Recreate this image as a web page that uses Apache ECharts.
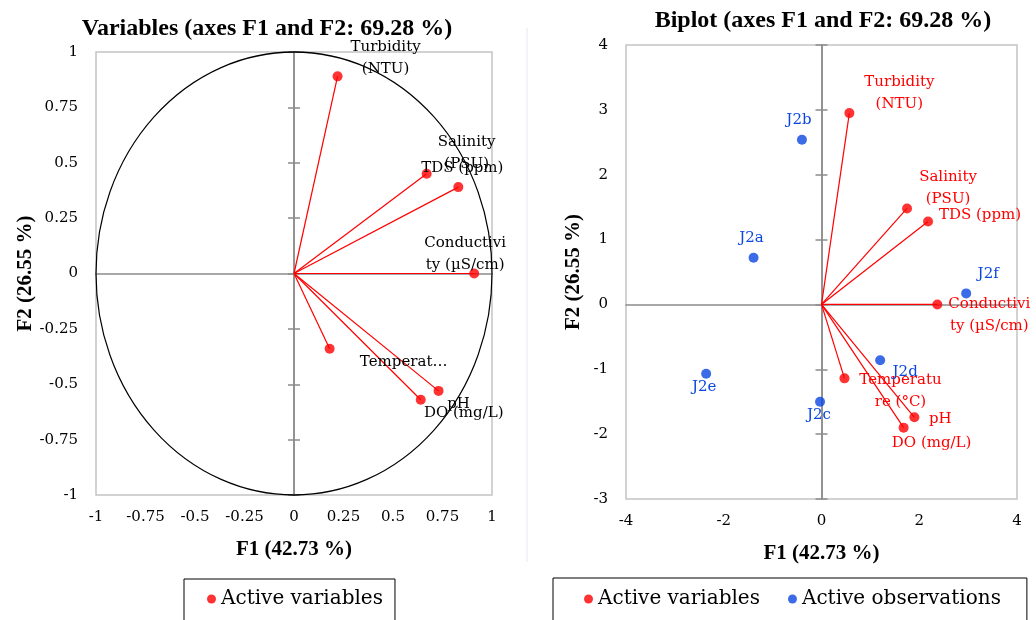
<!DOCTYPE html>
<html>
<head>
<meta charset="utf-8">
<script src="https://cdn.jsdelivr.net/npm/echarts@6/dist/echarts.min.js"></script>
<style>
  html, body { margin: 0; padding: 0; background: #ffffff; }
  #chart { width: 1036px; height: 620px; }
</style>
</head>
<body>
<div id="chart"></div>
<script>
// ---- PCA results: correlation circle (F1, F2) ----
const variableNames = ['Turbidity (NTU)', 'Salinity (PSU)', 'TDS (ppm)', 'Conductivity (µS/cm)', 'Temperature (°C)', 'pH', 'DO (mg/L)'];
const corrF1 = [0.22, 0.67, 0.83, 0.91, 0.18, 0.73, 0.64];
const corrF2 = [0.89, 0.45, 0.39, 0.00, -0.34, -0.53, -0.57];
const corrLabels = ['Turbidity\n(NTU)', 'Salinity\n(PSU)', 'TDS (ppm)', 'Conductivi\nty (µS/cm)', 'Temperat…', 'pH', 'DO (mg/L)'];

// ---- Biplot: variable vectors and observation scores ----
const biVarF1 = [0.57, 1.75, 2.18, 2.37, 0.47, 1.90, 1.68];
const biVarF2 = [2.95, 1.48, 1.28, 0.00, -1.14, -1.74, -1.90];
const biVarLabels = ['Turbidity\n(NTU)', 'Salinity\n(PSU)', 'TDS (ppm)', 'Conductivi\nty (µS/cm)', 'Temperatu\nre (°C)', 'pH', 'DO (mg/L)'];
const observations = ['J2a', 'J2b', 'J2c', 'J2d', 'J2e', 'J2f'];
const obsF1 = [-1.39, -0.40, -0.03, 1.20, -2.36, 2.96];
const obsF2 = [0.72, 2.54, -1.50, -0.86, -1.07, 0.17];

// ---- Axis texts ----
const titleLeft = 'Variables (axes F1 and F2: 69.28 %)';
const titleRight = 'Biplot (axes F1 and F2: 69.28 %)';
const nameF1 = 'F1 (42.73 %)';
const nameF2 = 'F2 (26.55 %)';
const legendVariables = 'Active variables';
const legendObservations = 'Active observations';

// ---- Label placement (pixel offsets from each point) ----
const corrLabelOffsets = [[48, -18], [40, -21], [4, -19], [-9, -19], [74, 13], [20, 13], [43, 13]];
const biVarLabelOffsets = [[50, -20], [41, -20], [52, -6], [52, 11], [56, 13], [26, 2], [28, 15]];
const obsLabelOffsets = [[-2, -20], [-3, -20], [-1, 13], [25, 12], [-2, 13], [22, -19]];

const RED = '#ff0000';
const BLUE = '#0a46e0';
const SERIF = 'DejaVu Serif';
const TITLE_FONT = 'Liberation Serif';

const chart = echarts.init(document.getElementById('chart'), null, { renderer: 'canvas' });

function tickLabel() {
  return { fontFamily: SERIF, fontSize: 15, color: '#000' };
}

// One grid's axes: labelled outer axes + zero-crossing axes with "cross" ticks
function buildAxes(gridIndex, xr, yr, xGap, yGap) {
  const xAxes = [
    {
      gridIndex, type: 'value', min: xr[0], max: xr[1], interval: xr[2], position: 'bottom',
      axisLine: { show: false, onZero: false }, axisTick: { show: false }, splitLine: { show: false },
      axisLabel: Object.assign({ margin: 15 }, tickLabel()),
      name: nameF1, nameLocation: 'middle', nameGap: xGap,
      nameTextStyle: { fontFamily: TITLE_FONT, fontWeight: 'bold', fontSize: 21, color: '#000' }
    },
    {
      gridIndex, type: 'value', min: xr[0], max: xr[1], interval: xr[2], position: 'top',
      axisLine: { show: true, onZero: true, lineStyle: { color: '#8c8c8c', width: 1.5 } },
      axisTick: { show: false }, axisLabel: { show: false }, splitLine: { show: false }
    }
  ];
  const yAxes = [
    {
      gridIndex, type: 'value', min: yr[0], max: yr[1], interval: yr[2], position: 'left',
      axisLine: { show: false, onZero: false }, axisTick: { show: false }, splitLine: { show: false },
      axisLabel: Object.assign({ margin: 18 }, tickLabel()),
      name: nameF2, nameLocation: 'middle', nameGap: yGap, nameRotate: 90,
      nameTextStyle: { fontFamily: TITLE_FONT, fontWeight: 'bold', fontSize: 21, color: '#000' }
    },
    {
      gridIndex, type: 'value', min: yr[0], max: yr[1], interval: yr[2], position: 'left',
      axisLine: { show: true, onZero: true, lineStyle: { color: '#8c8c8c', width: 1.5 } },
      axisTick: { show: true, inside: false, length: 6, lineStyle: { color: '#8c8c8c', width: 1.5 } },
      axisLabel: { show: false }, splitLine: { show: false }
    },
    {
      gridIndex, type: 'value', min: yr[0], max: yr[1], interval: yr[2], position: 'left',
      axisLine: { show: true, onZero: true, lineStyle: { color: '#8c8c8c', width: 1.5 } },
      axisTick: { show: true, inside: true, length: 6, lineStyle: { color: '#8c8c8c', width: 1.5 } },
      axisLabel: { show: false }, splitLine: { show: false }
    }
  ];
  return { xAxes, yAxes };
}

const leftAxes = buildAxes(0, [-1, 1, 0.25], [-1, 1, 0.25], 44, 60);
const rightAxes = buildAxes(1, [-4, 4, 2], [-3, 4, 1], 44, 42);

// Arrows from the origin to each variable point
function vectorSeries(xAxisIndex, yAxisIndex, f1, f2) {
  return {
    type: 'custom', xAxisIndex, yAxisIndex, silent: true, z: 3,
    encode: { x: 0, y: 1 },
    data: f1.map((v, i) => [v, f2[i]]),
    renderItem(params, api) {
      const o = api.coord([0, 0]);
      const p = api.coord([api.value(0), api.value(1)]);
      return {
        type: 'line',
        shape: { x1: o[0], y1: o[1], x2: p[0], y2: p[1] },
        style: { stroke: RED, lineWidth: 1.2 }
      };
    }
  };
}

function pointSeries(name, xAxisIndex, yAxisIndex, f1, f2, labels, offsets, color, labelColor) {
  return {
    name, type: 'scatter', xAxisIndex, yAxisIndex, symbol: 'circle', symbolSize: 10, z: 5,
    itemStyle: { color },
    data: f1.map((v, i) => ({
      value: [v, f2[i]],
      label: { offset: offsets[i] }
    })),
    label: {
      show: true, position: 'inside', align: 'center', verticalAlign: 'middle',
      fontFamily: SERIF, fontSize: 15, lineHeight: 22, color: labelColor,
      textBorderWidth: 0, textBorderColor: 'transparent', textShadowBlur: 0, opacity: 1,
      formatter: p => labels[p.dataIndex]
    },
    emphasis: { disabled: true }
  };
}

// Correlation circle of radius 1 around the origin, scaled by the axes
const circleSeries = {
  type: 'custom', xAxisIndex: 0, yAxisIndex: 0, silent: true, z: 2,
  encode: { x: 0, y: 1 },
  data: [[0, 0, 1]],
  renderItem(params, api) {
    const c = api.coord([api.value(0), api.value(1)]);
    const e = api.coord([api.value(0) + api.value(2), api.value(1) + api.value(2)]);
    const rx = e[0] - c[0];
    const ry = c[1] - e[1];
    return {
      type: 'circle', x: c[0], y: c[1], scaleX: 1, scaleY: ry / rx,
      shape: { cx: 0, cy: 0, r: rx },
      style: { fill: 'none', stroke: '#000', lineWidth: 1.2, strokeNoScale: true }
    };
  }
};

const legendText = { fontFamily: SERIF, fontSize: 20, color: '#000' };

const option = {
  backgroundColor: '#ffffff',
  animation: false,
  title: [
    { text: titleLeft, left: 262, top: 12, textAlign: 'center',
      textStyle: { fontFamily: TITLE_FONT, fontWeight: 'bold', fontSize: 24, color: '#000' } },
    { text: titleRight, left: 818, top: 4, textAlign: 'center',
      textStyle: { fontFamily: TITLE_FONT, fontWeight: 'bold', fontSize: 24, color: '#000' } }
  ],
  grid: [
    { left: 96, top: 52, width: 396, height: 443, show: true, borderColor: '#c4c4c4', borderWidth: 1.5, outerBoundsMode: 'none' },
    { left: 626, top: 45, width: 391, height: 454, show: true, borderColor: '#c4c4c4', borderWidth: 1.5, outerBoundsMode: 'none' }
  ],
  xAxis: leftAxes.xAxes.concat(rightAxes.xAxes),
  yAxis: leftAxes.yAxes.concat(rightAxes.yAxes),
  legend: [
    {
      data: [legendVariables], left: 184, top: 579, orient: 'horizontal',
      icon: 'circle', itemWidth: 9, itemHeight: 9, selectedMode: false,
      padding: [10, 12, 40, 23], borderColor: '#000', borderWidth: 1,
      textStyle: legendText
    },
    {
      data: [legendVariables, legendObservations], left: 553, top: 578, orient: 'horizontal',
      icon: 'circle', itemWidth: 9, itemHeight: 9, itemGap: 28, selectedMode: false,
      padding: [11, 26, 40, 31], borderColor: '#000', borderWidth: 1,
      textStyle: legendText
    }
  ],
  graphic: [
    { type: 'line', shape: { x1: 527, y1: 28, x2: 527, y2: 562 }, style: { stroke: '#e6e6f2', lineWidth: 1 }, silent: true }
  ],
  series: [
    circleSeries,
    vectorSeries(0, 0, corrF1, corrF2),
    pointSeries(legendVariables, 0, 0, corrF1, corrF2, corrLabels, corrLabelOffsets, RED, '#000'),
    vectorSeries(2, 3, biVarF1, biVarF2),
    pointSeries(legendVariables, 2, 3, biVarF1, biVarF2, biVarLabels, biVarLabelOffsets, RED, RED),
    pointSeries(legendObservations, 2, 3, obsF1, obsF2, observations, obsLabelOffsets, BLUE, BLUE)
  ]
};

chart.setOption(option);
</script>
</body>
</html>
